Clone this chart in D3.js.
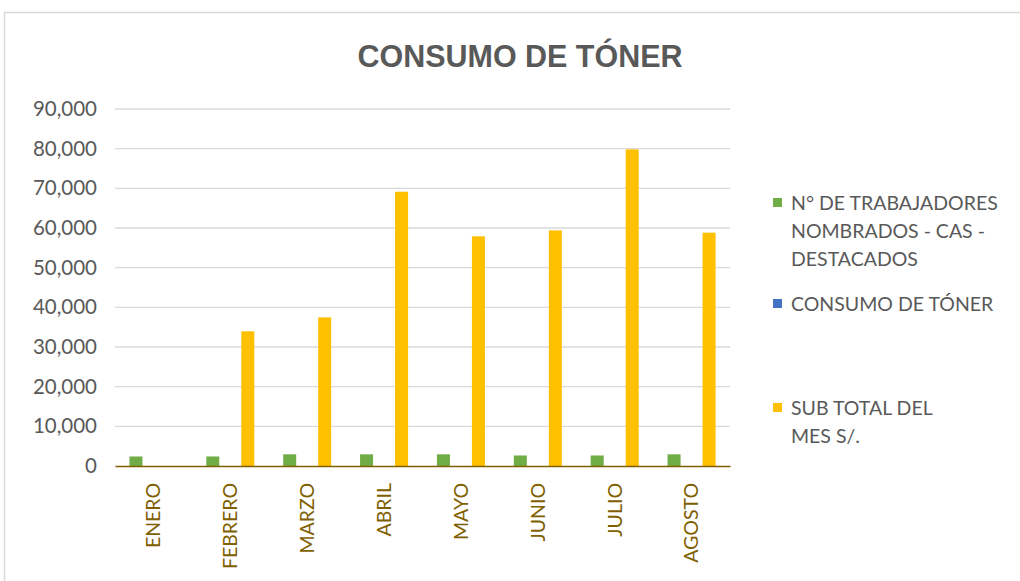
<!DOCTYPE html>
<html>
<head>
<meta charset="utf-8">
<script src="https://cdn.jsdelivr.net/npm/d3@7"></script>
<style>
  body { margin: 0; background: #fff; }
  svg { display: block; }
</style>
</head>
<body>
<svg id="chart" width="1020" height="581"></svg>
<script>
var months = ["ENERO", "FEBRERO", "MARZO", "ABRIL", "MAYO", "JUNIO", "JULIO", "AGOSTO"]
var seriesNames = ["N° DE TRABAJADORES NOMBRADOS - CAS - DESTACADOS", "CONSUMO DE TÓNER", "SUB TOTAL DEL MES S/."]
var trabajadores = [2400, 2400, 2950, 2950, 2950, 2650, 2650, 2950]
var consumo = [0, 0, 0, 0, 0, 0, 0, 0]
var subtotal = [0, 33950, 37480, 69150, 57900, 59400, 79830, 58820]
var yTicks = [0, 10000, 20000, 30000, 40000, 50000, 60000, 70000, 80000, 90000]
var colors = ["#70ad47", "#4472c4", "#ffc000"]
var legendLines = [["N° DE TRABAJADORES", "NOMBRADOS - CAS -", "DESTACADOS"], ["CONSUMO DE TÓNER"], ["SUB TOTAL DEL", "MES S/."]]

var svg = d3.select("#chart")
var margin = {top: 109, left: 115, bottom: 115, right: 290}
var width = 1020 - margin.left - margin.right
var height = 581 - margin.top - margin.bottom
var font = "Lato, 'Open Sans', sans-serif"

// chart frame
svg.append("rect")
  .attr("x", 4.5).attr("y", 12.5)
  .attr("width", 1030).attr("height", 600)
  .attr("fill", "#fff").attr("stroke", "#d9d9d9").attr("stroke-width", 1.5)

svg.append("text")
  .attr("x", 520).attr("y", 67)
  .attr("text-anchor", "middle")
  .attr("fill", "#595959")
  .attr("font-family", "'Liberation Sans Narrow', 'Liberation Sans', Arial, sans-serif")
  .attr("font-weight", "bold")
  .attr("font-size", 32)
  .attr("textLength", 325)
  .attr("lengthAdjust", "spacingAndGlyphs")
  .text("CONSUMO DE TÓNER")

var g = svg.append("g").attr("transform", "translate(" + margin.left + "," + margin.top + ")")

var xScale = d3.scaleBand().domain(months).range([0, width]).padding(0)
var xInner = d3.scaleBand().domain([0, 1, 2]).range([-24, 24]).paddingInner(0.257).paddingOuter(0)
var yScale = d3.scaleLinear().domain([0, 90000]).range([height, 0])

// gridlines
g.selectAll(".grid").data(yTicks.slice(1)).enter().append("line")
  .attr("class", "grid")
  .attr("x1", 0).attr("x2", width)
  .attr("y1", function(d) { return yScale(d) }).attr("y2", function(d) { return yScale(d) })
  .attr("stroke", "#d9d9d9").attr("stroke-width", 1.3)

var yAxis = g.append("g")
  .call(d3.axisLeft(yScale).tickValues(yTicks).tickSize(0).tickPadding(18).tickFormat(d3.format(",")))
yAxis.select(".domain").remove()
yAxis.selectAll("text")
  .attr("fill", "#595959").attr("font-size", 20.5).attr("font-family", font)

var data = months.map(function(m, i) {
  return {month: m, values: [trabajadores[i], consumo[i], subtotal[i]]}
})

var groups = g.selectAll(".month").data(data).enter().append("g")
  .attr("transform", function(d) { return "translate(" + (xScale(d.month) + xScale.bandwidth() / 2) + ",0)" })

groups.selectAll("rect").data(function(d) { return d.values }).enter().append("rect")
  .attr("x", function(d, i) { return xInner(i) })
  .attr("width", xInner.bandwidth())
  .attr("y", function(d) { return yScale(d) })
  .attr("height", function(d) { return height - yScale(d) })
  .attr("fill", function(d, i) { return colors[i] })

var xAxis = g.append("g")
  .attr("transform", "translate(0," + height + ")")
  .call(d3.axisBottom(xScale).tickSize(0).tickPadding(0))
xAxis.select(".domain").attr("stroke", "#7f6000").attr("stroke-width", 1.5)
xAxis.selectAll("text")
  .attr("fill", "#7f6000").attr("font-size", 19.5).attr("font-family", font)
  .attr("text-anchor", "end")
  .attr("dy", "0.35em")
  .attr("transform", "translate(0,17) rotate(-90)")
  .attr("x", 0).attr("y", 0)

// legend
var legendY = [203, 304, 408]
var legend = svg.selectAll(".legend").data(legendLines).enter().append("g")
  .attr("transform", function(d, i) { return "translate(773," + legendY[i] + ")" })
legend.append("rect")
  .attr("x", 0).attr("y", -5).attr("width", 9).attr("height", 9)
  .attr("fill", function(d, i) { return colors[i] })
legend.each(function(lines) {
  var t = d3.select(this).append("text")
    .attr("fill", "#595959").attr("font-size", 19.5).attr("font-family", font)
  lines.forEach(function(l, j) {
    t.append("tspan").attr("x", 18).attr("y", j * 28).attr("dy", "0.35em").text(l)
  })
})
</script>
</body>
</html>
